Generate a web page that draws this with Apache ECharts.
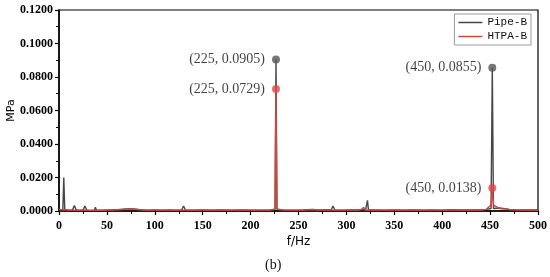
<!DOCTYPE html>
<html>
<head>
<meta charset="utf-8">
<script src="https://cdn.jsdelivr.net/npm/echarts@6/dist/echarts.min.js"></script>
<style>
  html, body { margin: 0; padding: 0; background: #fff; }
  #chart { width: 550px; height: 277px; }
</style>
</head>
<body>
<div id="chart"></div>
<script>
    // frequency grid (Hz) shared by both spectra
    var freqs = [0, 2, 4, 5, 6, 8, 10, 14, 16, 18, 22, 25, 27, 29, 33, 37, 38, 39, 45, 50,
        55, 60, 65, 70, 75, 78, 80, 85, 90, 95, 100, 105, 110, 115, 120, 125, 128, 130, 132, 140,
        150, 160, 170, 180, 190, 200, 210, 220, 225.5, 226.5, 227.5, 235, 245, 255, 265, 270, 275, 280, 284, 286,
        288, 295, 305, 312, 316, 318, 320, 321, 322, 323, 330, 340, 350, 360, 370, 380, 390, 400, 410, 420,
        430, 440, 446, 451, 452.3, 453.5, 460, 465, 470, 475, 480, 490, 500];
    // Pipe-B amplitude (MPa)
    var pipeB = [0.0008, 0.0010, 0.0010, 0.0200, 0.0010, 0.0006, 0.0005, 0.0006, 0.0032, 0.0006, 0.0005, 0.0005, 0.0030, 0.0005, 0.0004, 0.0005, 0.0022, 0.0005, 0.0005, 0.0006,
        0.0006, 0.0008, 0.0010, 0.0012, 0.0013, 0.0012, 0.0018, 0.0008, 0.0006, 0.0005, 0.0007, 0.0005, 0.0005, 0.0006, 0.0005, 0.0005, 0.0006, 0.0030, 0.0006, 0.0005,
        0.0006, 0.0005, 0.0006, 0.0005, 0.0006, 0.0005, 0.0005, 0.0006, 0.0010, 0.0905, 0.0010, 0.0005, 0.0005, 0.0006, 0.0010, 0.0006, 0.0007, 0.0008, 0.0006, 0.0030,
        0.0006, 0.0005, 0.0006, 0.0006, 0.0010, 0.0020, 0.0006, 0.0006, 0.0064, 0.0006, 0.0006, 0.0005, 0.0006, 0.0005, 0.0006, 0.0005, 0.0006, 0.0005, 0.0008, 0.0006,
        0.0006, 0.0007, 0.0010, 0.0015, 0.0855, 0.0015, 0.0018, 0.0014, 0.0010, 0.0008, 0.0007, 0.0006, 0.0006];
    // HTPA-B amplitude (MPa)
    var htpaB = [0.0007, 0.0008, 0.0008, 0.0012, 0.0008, 0.0005, 0.0005, 0.0005, 0.0012, 0.0005, 0.0004, 0.0005, 0.0012, 0.0005, 0.0004, 0.0005, 0.0010, 0.0005, 0.0004, 0.0005,
        0.0005, 0.0007, 0.0009, 0.0011, 0.0012, 0.0011, 0.0014, 0.0007, 0.0005, 0.0005, 0.0006, 0.0005, 0.0005, 0.0005, 0.0005, 0.0005, 0.0005, 0.0012, 0.0005, 0.0005,
        0.0005, 0.0005, 0.0005, 0.0005, 0.0005, 0.0005, 0.0005, 0.0005, 0.0012, 0.0729, 0.0012, 0.0005, 0.0005, 0.0005, 0.0008, 0.0005, 0.0006, 0.0007, 0.0005, 0.0012,
        0.0005, 0.0005, 0.0005, 0.0005, 0.0010, 0.0022, 0.0005, 0.0005, 0.0010, 0.0005, 0.0005, 0.0005, 0.0005, 0.0005, 0.0005, 0.0005, 0.0005, 0.0005, 0.0007, 0.0005,
        0.0005, 0.0006, 0.0010, 0.0035, 0.0138, 0.0035, 0.0014, 0.0012, 0.0009, 0.0007, 0.0006, 0.0005, 0.0005];
    // marked peaks
    var pipePeaks = [[226.5, 0.0905], [452.3, 0.0855]];
    var pipePeakLabels = ['(225, 0.0905)', '(450, 0.0855)'];
    var htpaPeaks = [[226.5, 0.0729], [452.3, 0.0138]];
    var htpaPeakLabels = ['(225, 0.0729)', '(450, 0.0138)'];
    var yTicks = [0, 0.02, 0.04, 0.06, 0.08, 0.10, 0.12];

    function pairs(xs, ys) {
        var out = [];
        for (var i = 0; i < xs.length; i++) {
            out.push([xs[i], ys[i]]);
        }
        return out;
    }

    function peakData(pts, labels) {
        return pts.map(function (p, i) {
            return { value: p, name: labels[i] };
        });
    }

    var pipeColor = '#474747';
    var htpaColor = '#d2463e';
    var tickFont = { color: '#000', fontFamily: 'Liberation Serif', fontWeight: 'bold', fontSize: 12 };
    var peakLabel = {
        show: true,
        position: 'left',
        distance: 7,
        color: '#111',
        fontFamily: 'Liberation Serif',
        fontSize: 14,
        formatter: function (p) { return p.name; }
    };

    var chart = echarts.init(document.getElementById('chart'));
    var option = {
        animation: false,
        backgroundColor: '#fff',
        grid: {
            left: 59, right: 12, top: 10, bottom: 66,
            outerBoundsMode: 'none',
            show: true, borderColor: '#000', borderWidth: 1.2
        },
        legend: {
            data: [
                { name: 'Pipe-B', icon: 'rect' },
                { name: 'HTPA-B', icon: 'rect' }
            ],
            orient: 'vertical',
            right: 19,
            top: 14,
            itemWidth: 24,
            itemHeight: 1.5,
            itemGap: 3,
            padding: [3, 4, 3, 4],
            borderColor: '#999',
            borderWidth: 1,
            borderRadius: 0,
            textStyle: { fontFamily: 'Liberation Mono', fontSize: 11, color: '#111' }
        },
        xAxis: {
            type: 'value',
            min: 0,
            max: 500,
            interval: 50,
            name: 'f/Hz',
            nameLocation: 'middle',
            nameGap: 25,
            nameMoveOverlap: false,
            nameTextStyle: { fontFamily: 'DejaVu Sans', fontSize: 12, color: '#000' },
            axisLine: { lineStyle: { color: '#000', width: 1.5 } },
            axisTick: { lineStyle: { color: '#000', width: 1.2 }, length: 4 },
            minorTick: { show: true, splitNumber: 2, length: 3, lineStyle: { color: '#000' } },
            splitLine: { show: false },
            axisLabel: Object.assign({ margin: 9 }, tickFont)
        },
        yAxis: {
            type: 'value',
            min: 0,
            max: 0.12,
            interval: 0.02,
            name: 'MPa',
            nameLocation: 'middle',
            nameGap: 42,
            nameMoveOverlap: false,
            nameTextStyle: { fontFamily: 'DejaVu Sans', fontSize: 11, color: '#000' },
            axisLine: { show: true, lineStyle: { color: '#000', width: 1.5 } },
            axisTick: { show: true, lineStyle: { color: '#000', width: 1.2 }, length: 4 },
            minorTick: { show: true, splitNumber: 2, length: 3, lineStyle: { color: '#000' } },
            splitLine: { show: false },
            axisLabel: Object.assign({
                margin: 6,
                formatter: function (v) {
                    return yTicks.indexOf(+v.toFixed(2)) >= 0 ? v.toFixed(4) : '';
                }
            }, tickFont)
        },
        series: [
            {
                name: 'Pipe-B',
                type: 'line',
                data: pairs(freqs, pipeB),
                showSymbol: false,
                itemStyle: { color: pipeColor },
                lineStyle: { color: pipeColor, width: 1.4 },
                z: 2
            },
            {
                name: 'HTPA-B',
                type: 'line',
                data: pairs(freqs, htpaB),
                showSymbol: false,
                itemStyle: { color: htpaColor },
                lineStyle: { color: htpaColor, width: 1.4 },
                z: 3
            },
            {
                name: 'Pipe-B peaks',
                type: 'scatter',
                data: peakData(pipePeaks, pipePeakLabels),
                symbolSize: 8,
                itemStyle: { color: '#555' },
                label: peakLabel,
                z: 4
            },
            {
                name: 'HTPA-B peaks',
                type: 'scatter',
                data: peakData(htpaPeaks, htpaPeakLabels),
                symbolSize: 8,
                itemStyle: { color: '#e04848' },
                label: peakLabel,
                z: 5
            }
        ],
        graphic: [
            {
                type: 'text',
                left: 265,
                top: 258,
                style: { text: '(b)', fontFamily: 'Liberation Serif', fontSize: 14, fill: '#111' }
            }
        ]
    };
    chart.setOption(option);
</script>
</body>
</html>
